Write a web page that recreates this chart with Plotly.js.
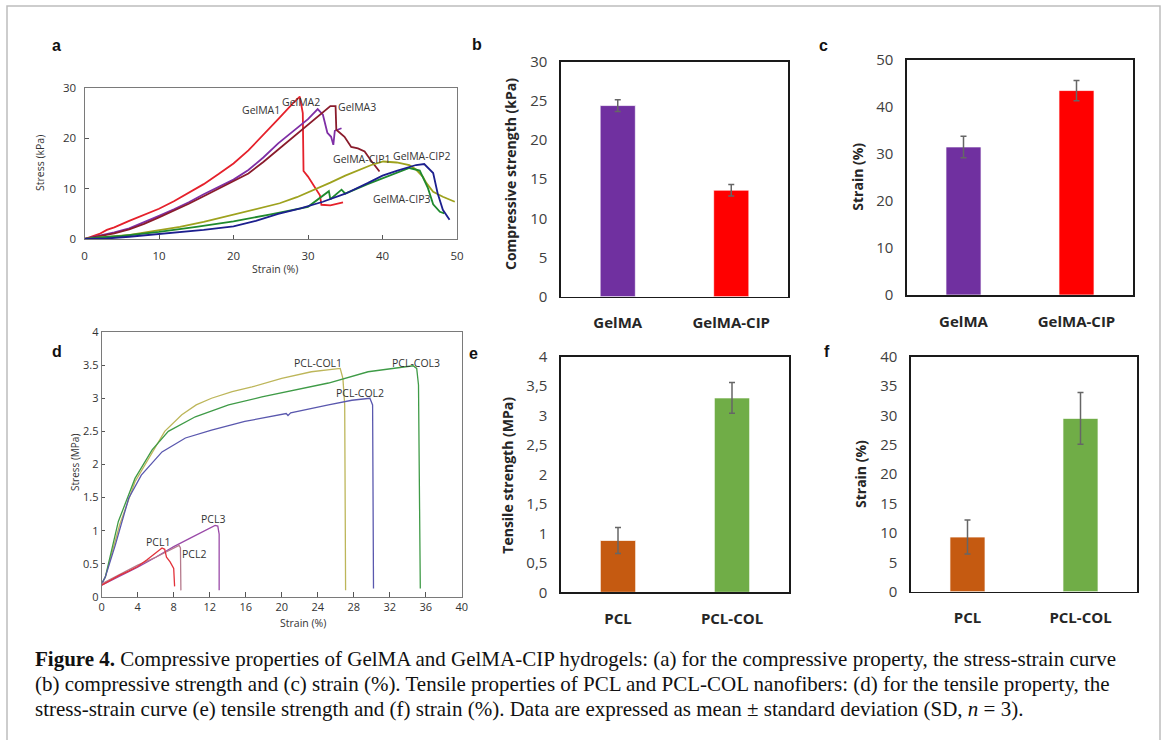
<!DOCTYPE html>
<html>
<head>
<meta charset="utf-8">
<script src="https://cdn.plot.ly/plotly-3.0.1.min.js"></script>
<style>
html,body{margin:0;padding:0;background:#fff;}
#chart{width:1167px;height:740px;}
</style>
</head>
<body>
<div id="chart"></div>
<script>
// ---------- Panel a: compressive stress-strain curves (kPa vs %) ----------
const gelma1X = [0,2,3,4,6,8,10,12,14,16,18,20,22,24,26,28,28.9,29.3,29.4,30,31.6,31.8,33,34.7];
const gelma1Y = [0,1.0,1.8,2.3,3.6,4.8,6.0,7.5,9.2,10.9,12.9,15.0,17.6,20.6,23.8,27.0,28.3,25,13.5,12.4,8.7,6.8,6.7,7.3];
const gelma2X = [0,2,4,6,8,10,12,14,16,18,20,22,24,26,28,30,31.3,32,32.6,33.1,33.4,33.6,34.5];
const gelma2Y = [0,0.6,1.3,2.1,3.3,4.6,5.9,7.3,8.9,10.3,11.8,13.7,16.2,19.0,21.4,23.8,25.8,24.7,21.1,20.3,18.7,21.5,22.0];
const gelma3X = [0,2,4,6,8,10,12,14,16,18,20,22,24,26,28,30,32,33.0,33.7,33.8,34.9,35.8,36.7,37.6,38.5,39.6];
const gelma3Y = [0,0.5,1.1,1.9,3.0,4.3,5.6,7.0,8.5,10.0,11.4,13.0,15.3,17.8,20.3,22.8,25.2,26.4,26.4,21.7,20.3,18.3,18.0,17.4,15.5,13.4];
const cip1X = [0,2,4,6.1,9,12.8,16,19.9,23,26.2,28.5,30.7,33,35,36.9,38.5,40.1,41.9,43.6,44.5,45.4,45.9,46.8,48.1,49.7];
const cip1Y = [0,0.3,0.55,0.8,1.5,2.4,3.4,4.8,5.8,7.1,8.3,9.7,11.2,12.6,13.7,14.7,15.4,15.2,14.7,13.8,12.4,11.1,9.4,8.4,7.4];
const cip2X = [0,3,6,10,13,16,20,23,26,29,32,35,38,40,42,44.5,45.6,46.8,47.4,48.1,49.0];
const cip2Y = [0,0.1,0.45,0.95,1.3,1.8,2.5,3.6,5.0,6.1,7.4,9.0,11.1,12.6,13.6,14.7,14.9,13.1,9.1,5.8,3.8];
const cip3X = [0,2,5,10,15,20,25,30,32.8,33,34.5,35,38,40,42,43.6,45.0,46.1,46.8,47.7,48.3];
const cip3Y = [0,0.3,0.6,1.4,2.4,3.5,4.9,6.4,9.5,7.9,9.8,9.0,10.9,12.1,13.2,14.1,13.6,10.1,6.9,5.4,5.1];

// ---------- Panel b / c: GelMA vs GelMA-CIP ----------
const gelCats = ["GelMA", "GelMA-CIP"];
const compStrength = [24.4, 13.6];
const compStrengthSD = [0.75, 0.73];
const compStrain = [31.5, 43.5];
const compStrainSD = [2.3, 2.15];

// ---------- Panel d: tensile stress-strain curves (MPa vs %) ----------
const pclCol1X = [0,0.4,1,2.0,3.7,5.6,7.0,8.9,10.5,12.2,14.5,16.7,18.5,20.0,23.3,25.5,26.5,26.8,27.0,27.1];
const pclCol1Y = [0.2,0.3,0.6,1.09,1.74,2.19,2.5,2.75,2.9,3.0,3.1,3.17,3.24,3.30,3.40,3.44,3.45,3.3,2.9,0.1];
const pclCol2X = [0,0.4,1.5,3.0,4.4,6.7,9.3,12.2,15.9,20.5,20.7,21.0,25.2,27.8,29.8,30.1,30.2];
const pclCol2Y = [0.2,0.3,0.78,1.49,1.84,2.19,2.4,2.52,2.65,2.77,2.74,2.78,2.9,2.97,3.0,2.9,0.13];
const pclCol3X = [0,0.4,1.85,3.7,5.6,7.4,10.4,14.1,17.8,21.5,25.2,29.6,32.6,34.6,35.0,35.2,35.4];
const pclCol3Y = [0.2,0.3,1.14,1.79,2.22,2.5,2.72,2.9,3.02,3.12,3.23,3.40,3.46,3.49,3.45,3.2,0.13];
const pcl1X = [0,1,2,3,4,5,6,6.7,7.0,7.2,7.6,8.0,8.1];
const pcl1Y = [0.18,0.26,0.33,0.39,0.46,0.56,0.66,0.74,0.72,0.6,0.53,0.43,0.16];
const pcl2X = [0,2,4,6,8,8.6,8.75,8.8];
const pcl2Y = [0.2,0.34,0.48,0.6,0.73,0.78,0.74,0.1];
const pcl3X = [0,2,4,6,8,10,12,12.6,12.9,13.05,13.05];
const pcl3Y = [0.18,0.31,0.45,0.6,0.76,0.9,1.04,1.08,1.07,0.95,0.1];

// ---------- Panel e / f: PCL vs PCL-COL ----------
const pclCats = ["PCL", "PCL-COL"];
const tensStrength = [0.88, 3.30];
const tensStrengthSD = [0.22, 0.26];
const tensStrain = [9.3, 29.5];
const tensStrainSD = [2.9, 4.4];
const eTickVals = [0, 0.5, 1, 1.5, 2, 2.5, 3, 3.5, 4];
const eTickText = ["0", "0,5", "1", "1,5", "2", "2,5", "3", "3,5", "4"];

// ---------- helpers (pixel -> paper) ----------
const W = 1167, H = 740;
const px = v => v / W;
const py = v => 1 - v / H;

function curve(x, y, color, xa, ya, w) {
  return {type: 'scatter', mode: 'lines', x: x, y: y, xaxis: xa, yaxis: ya,
          line: {color: color, width: w || 1.6}, hoverinfo: 'skip', showlegend: false};
}
function bars(cats, vals, sd, colors, xa, ya) {
  return {type: 'bar', x: cats, y: vals, xaxis: xa, yaxis: ya,
          marker: {color: colors, line: {color: 'rgba(255,255,255,0.7)', width: 1}},
          error_y: {type: 'data', array: sd, visible: true, color: '#666666', thickness: 1.5, width: 3},
          hoverinfo: 'skip', showlegend: false};
}

const data = [
  curve(gelma1X, gelma1Y, '#e5212b', 'x', 'y', 1.8),
  curve(gelma2X, gelma2Y, '#7f2fa6', 'x', 'y', 1.8),
  curve(gelma3X, gelma3Y, '#8a1c2c', 'x', 'y', 1.8),
  curve(cip1X, cip1Y, '#9ea21e', 'x', 'y', 1.8),
  curve(cip3X, cip3Y, '#1f8a2e', 'x', 'y', 1.8),
  curve(cip2X, cip2Y, '#1c1f8e', 'x', 'y', 1.8),
  bars(gelCats, compStrength, compStrengthSD, ['#7030A0', '#FF0000'], 'x2', 'y2'),
  bars(gelCats, compStrain, compStrainSD, ['#7030A0', '#FF0000'], 'x3', 'y3'),
  curve(pclCol1X, pclCol1Y, '#bdb65a', 'x4', 'y4', 1.3),
  curve(pclCol3X, pclCol3Y, '#3f9b47', 'x4', 'y4', 1.3),
  curve(pclCol2X, pclCol2Y, '#5a58ae', 'x4', 'y4', 1.3),
  curve(pcl3X, pcl3Y, '#9a4aa8', 'x4', 'y4', 1.3),
  curve(pcl2X, pcl2Y, '#b57a8c', 'x4', 'y4', 1.3),
  curve(pcl1X, pcl1Y, '#e2323a', 'x4', 'y4', 1.3),
  bars(pclCats, tensStrength, tensStrengthSD, ['#C55A11', '#70AD47'], 'x5', 'y5'),
  bars(pclCats, tensStrain, tensStrainSD, ['#C55A11', '#70AD47'], 'x6', 'y6')
];

const lineAxisBase = {showgrid: false, zeroline: false, showline: true, mirror: true,
  linecolor: '#7a7a7a', linewidth: 1, ticks: 'inside', ticklen: 4, tickcolor: '#555',
  tickfont: {family: 'Open Sans, sans-serif', size: 11.5, color: '#333'}};
const barYBase = {showgrid: false, zeroline: false, showline: true, mirror: true,
  linecolor: '#1a1a1a', linewidth: 1.6, ticks: '', ticklabelstandoff: 9,
  tickfont: {family: 'Open Sans, sans-serif', size: 15, color: '#404040'}};
const barXBase = {type: 'category', showgrid: false, zeroline: false, showline: true, mirror: true,
  linecolor: '#1a1a1a', linewidth: 1.6, ticks: '', ticklabelstandoff: 12,
  tickfont: {family: 'Open Sans, sans-serif', size: 15, weight: 'bold', color: '#262626'}};

const layout = {
  width: W, height: H,
  margin: {l: 0, r: 0, t: 0, b: 0},
  paper_bgcolor: '#ffffff', plot_bgcolor: '#ffffff',
  showlegend: false,
  bargap: 0.69,
  font: {family: 'Open Sans, sans-serif'},
  xaxis: Object.assign({}, lineAxisBase, {domain: [px(84.5), px(457)], range: [0, 50], dtick: 10, anchor: 'y', ticklabelstandoff: 6}),
  yaxis: Object.assign({}, lineAxisBase, {domain: [py(239), py(88)], range: [0, 30], dtick: 10, anchor: 'x', ticklabelstandoff: 5}),
  xaxis2: Object.assign({}, barXBase, {domain: [px(561), px(788)], anchor: 'y2'}),
  yaxis2: Object.assign({}, barYBase, {domain: [py(296.7), py(61.7)], range: [0, 30], dtick: 5, anchor: 'x2'}),
  xaxis3: Object.assign({}, barXBase, {domain: [px(907), px(1133)], anchor: 'y3'}),
  yaxis3: Object.assign({}, barYBase, {domain: [py(295), py(60)], range: [0, 50], dtick: 10, anchor: 'x3'}),
  xaxis4: Object.assign({}, lineAxisBase, {domain: [px(101.7), px(461.7)], range: [0, 40], dtick: 4, anchor: 'y4',
           tickfont: {family: 'Open Sans, sans-serif', size: 11, color: '#333'}, ticklen: 5, ticklabelstandoff: 0}),
  yaxis4: Object.assign({}, lineAxisBase, {domain: [py(597), py(332)], range: [0, 4], dtick: 0.5, anchor: 'x4',
           ticks: 'inside', ticklen: 3, ticklabelstandoff: 0,
           tickfont: {family: 'Open Sans, sans-serif', size: 11, color: '#333'}}),
  xaxis5: Object.assign({}, barXBase, {domain: [px(561), px(789)], anchor: 'y5'}),
  yaxis5: Object.assign({}, barYBase, {domain: [py(592.3), py(356.7)], range: [0, 4], tickvals: eTickVals, ticktext: eTickText, anchor: 'x5'}),
  xaxis6: Object.assign({}, barXBase, {domain: [px(911), px(1137)], anchor: 'y6'}),
  yaxis6: Object.assign({}, barYBase, {domain: [py(591.7), py(356.7)], range: [0, 40], dtick: 5, anchor: 'x6'}),
  shapes: [
    {type: 'path', xref: 'paper', yref: 'paper',
     path: 'M ' + px(7) + ',' + py(745) + ' L ' + px(7) + ',' + py(6) + ' L ' + px(1160) + ',' + py(6) + ' L ' + px(1160) + ',' + py(745),
     line: {color: '#bdbdbd', width: 1.5}}
  ],
  annotations: []
};

const A = layout.annotations;
function ann(text, x, y, opts) {
  A.push(Object.assign({text: text, xref: 'paper', yref: 'paper', x: px(x), y: py(y),
    xanchor: 'center', yanchor: 'middle', showarrow: false,
    font: {family: 'Open Sans, sans-serif', size: 11, color: '#333'}}, opts || {}));
}
// panel letters
const letterFont = {family: 'Liberation Sans, Arial, sans-serif', size: 16, weight: 'bold', color: '#111'};
ann('a', 56.7, 45, {font: letterFont});
ann('b', 476.7, 44, {font: letterFont});
ann('c', 823.3, 45, {font: letterFont});
ann('d', 56.7, 351.7, {font: letterFont});
ann('e', 473.3, 353.3, {font: letterFont});
ann('f', 826.7, 351.7, {font: letterFont});

// panel a axis titles & curve labels
ann('Stress (kPa)', 40, 163, {textangle: -90, font: {family: 'Open Sans, sans-serif', size: 10.5, color: '#333'}});
ann('Strain (%)', 275, 269, {font: {family: 'Open Sans, sans-serif', size: 10.5, color: '#333'}});
const lblA = {family: 'Open Sans, sans-serif', size: 10.5, color: '#333'};
ann('GelMA1', 261, 110, {font: lblA});
ann('GelMA2', 301, 102.3, {font: lblA});
ann('GelMA3', 356.7, 107.3, {font: lblA});
ann('GelMA-CIP1', 361.7, 159.3, {font: lblA});
ann('GelMA-CIP2', 421.7, 156, {font: lblA});
ann('GelMA-CIP3', 401.7, 199, {font: lblA});

// panel d axis titles & curve labels
ann('Stress (MPa)', 75, 463, {textangle: -90, font: {family: 'Open Sans, sans-serif', size: 10, color: '#333'}});
ann('Strain (%)', 303, 622.5, {font: {family: 'Open Sans, sans-serif', size: 10.5, color: '#333'}});
const lblD = {family: 'Open Sans, sans-serif', size: 10.5, color: '#333'};
ann('PCL-COL1', 317.7, 363.3, {font: lblD});
ann('PCL-COL3', 416, 363.3, {font: lblD});
ann('PCL-COL2', 360, 393.3, {font: lblD});
ann('PCL3', 213.3, 519, {font: lblD});
ann('PCL1', 158.3, 542.3, {font: lblD});
ann('PCL2', 194, 554, {font: lblD});

// bar chart axis titles
const barTitle = {family: 'Open Sans, sans-serif', size: 14, weight: 'bold', color: '#262626'};
ann('Compressive strength (kPa)', 510, 174, {textangle: -90, font: barTitle});
ann('Strain (%)', 856.7, 177, {textangle: -90, font: barTitle});
ann('Tensile strength (MPa)', 506.7, 475, {textangle: -90, font: barTitle});
ann('Strain (%)', 860, 474, {textangle: -90, font: barTitle});

// caption
const capFont = {family: 'Liberation Serif, Times New Roman, serif', size: 21, color: '#111'};
const capOpts = {xanchor: 'left', font: capFont};
ann('<b>Figure 4.</b> Compressive properties of GelMA and GelMA-CIP hydrogels: (a) for the compressive property, the stress-strain curve', 33, 659, capOpts);
ann('(b) compressive strength and (c) strain (%). Tensile properties of PCL and PCL-COL nanofibers: (d) for the tensile property, the', 33, 684, capOpts);
ann('stress-strain curve (e) tensile strength and (f) strain (%). Data are expressed as mean ± standard deviation (SD, <i>n</i> = 3).', 33, 709, capOpts);

Plotly.newPlot('chart', data, layout, {staticPlot: true, displayModeBar: false});
</script>
</body>
</html>
